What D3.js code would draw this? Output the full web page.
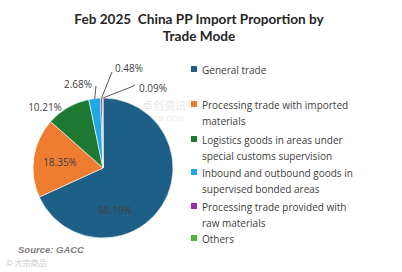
<!DOCTYPE html>
<html>
<head>
<meta charset="utf-8">
<script src="https://cdn.jsdelivr.net/npm/d3@7"></script>
<style>
  body { margin: 0; background: #fff; }
  svg { display: block; }
</style>
</head>
<body>
<div id="chart"></div>
<script>
const width = 402;
const height = 272;

// data
const categories = [
  'General trade',
  'Processing trade with imported materials',
  'Logistics goods in areas under special customs supervision',
  'Inbound and outbound goods in supervised bonded areas',
  'Processing trade provided with raw materials',
  'Others'
];
const legendLines = [
  ['General trade'],
  ['Processing trade with imported', 'materials'],
  ['Logistics goods in areas under', 'special customs supervision'],
  ['Inbound and outbound goods in', 'supervised bonded areas'],
  ['Processing trade provided with', 'raw materials'],
  ['Others']
];
const values = [68.19, 18.35, 10.21, 2.68, 0.48, 0.09];
const colors = ['#1d5f87', '#ee7d31', '#1e7a33', '#1ea9e1', '#9b2ca3', '#55b140'];

const cx = 103, cy = 168, r = 70;

// where each percentage label sits, relative to the pie centre
const labelPos = [
  { dx: 12, dy: 42, line: null },
  { dx: -43, dy: -6, line: null },
  { dx: -58, dy: -61, line: null },
  { dx: -25, dy: -84, line: [0.992, 0.88] },
  { dx: 26, dy: -100, line: [1.0, 1.0] },
  { dx: 50, dy: -80, line: [1.0, 1.0] }
];

const svg = d3.select('#chart')
  .append('svg')
  .attr('width', width)
  .attr('height', height);

// title
svg.append('text')
  .attr('x', 199).attr('y', 24)
  .attr('text-anchor', 'middle')
  .style('font-family', 'Lato, sans-serif')
  .style('font-weight', 'bold')
  .style('font-size', '13.6px')
  .attr('fill', '#262626')
  .selectAll('tspan')
  .data(['Feb 2025  China PP Import Proportion by', 'Trade Mode'])
  .join('tspan')
  .attr('x', 199)
  .attr('dy', (d, i) => i ? 17 : 0)
  .style('white-space', 'pre')
  .text(d => d);

// faint watermark
svg.append('text')
  .attr('x', 142).attr('y', 110)
  .style('font-family', '"Noto Sans CJK SC", sans-serif')
  .style('font-size', '11px')
  .attr('fill', '#e8e8e8')
  .text('卓创资讯');
svg.append('text')
  .attr('x', 142).attr('y', 121)
  .style('font-family', '"DejaVu Serif", serif')
  .style('font-size', '7px')
  .attr('fill', '#ececec')
  .text('SCI99.COM');

const pie = d3.pie().sort(null).value(d => d)
  .startAngle(0).endAngle(2 * Math.PI);
const arcs = pie(values);
const arc = d3.arc().innerRadius(0).outerRadius(r);

const g = svg.append('g').attr('transform', `translate(${cx},${cy})`);

g.selectAll('path')
  .data(arcs)
  .join('path')
  .attr('d', arc)
  .attr('fill', (d, i) => colors[i])
  .attr('stroke', '#fff')
  .attr('stroke-width', 0.6);

// leader lines for the thin slices
arcs.forEach((a, i) => {
  const lp = labelPos[i];
  if (!lp.line) return;
  const mid = (a.startAngle + a.endAngle) / 2;
  const x0 = Math.sin(mid) * r * lp.line[0];
  const y0 = -Math.cos(mid) * r * lp.line[0];
  let x1, y1;
  if (i === 3) { x1 = lp.dx + 18; y1 = lp.dy + 2; }
  else if (i === 4) { x1 = lp.dx - 17; y1 = lp.dy + 4; }
  else { x1 = lp.dx - 18; y1 = lp.dy - 3; }
  const pts = i === 5
    ? [[x0, y0], [x1 - 4, y1 + 2], [x1, y1]]
    : [[x0, y0], [x1, y1]];
  g.append('path')
    .attr('d', d3.line()(pts))
    .attr('fill', 'none')
    .attr('stroke', '#595959')
    .attr('stroke-width', 1);
});

g.selectAll('text.pct')
  .data(arcs)
  .join('text')
  .attr('class', 'pct')
  .attr('x', (d, i) => labelPos[i].dx)
  .attr('y', (d, i) => labelPos[i].dy)
  .attr('text-anchor', 'middle')
  .attr('dominant-baseline', 'central')
  .style('font-family', '"Open Sans", sans-serif')
  .style('font-size', '10px')
  .attr('fill', '#404040')
  .text(d => d3.format('.2f')(d.data) + '%');

// legend
const legendY = [70, 105, 140, 173, 207, 239];
const legend = svg.append('g');
legendLines.forEach((lines, i) => {
  legend.append('rect')
    .attr('x', 191).attr('y', legendY[i] - 4)
    .attr('width', 6).attr('height', 6)
    .attr('fill', colors[i]);
  legend.append('text')
    .attr('x', 202).attr('y', legendY[i])
    .attr('dominant-baseline', 'central')
    .style('font-family', '"Open Sans", sans-serif')
    .style('font-size', '10px')
    .attr('fill', '#404040')
    .selectAll('tspan')
    .data(lines)
    .join('tspan')
    .attr('x', 202)
    .attr('dy', (d, j) => j ? 16 : 0)
    .text(d => d);
});

// source
svg.append('text')
  .attr('x', 18).attr('y', 253)
  .style('font-family', '"Liberation Sans", Arial, sans-serif')
  .style('font-weight', 'bold')
  .style('font-style', 'italic')
  .style('font-size', '9.5px')
  .attr('fill', '#7f7f7f')
  .text('Source: GACC');

svg.append('text')
  .attr('x', 6).attr('y', 266)
  .style('font-family', '"Noto Sans CJK SC", sans-serif')
  .style('font-size', '8px')
  .attr('fill', '#c8c8c8')
  .text('© 大宗商品');
</script>
</body>
</html>
